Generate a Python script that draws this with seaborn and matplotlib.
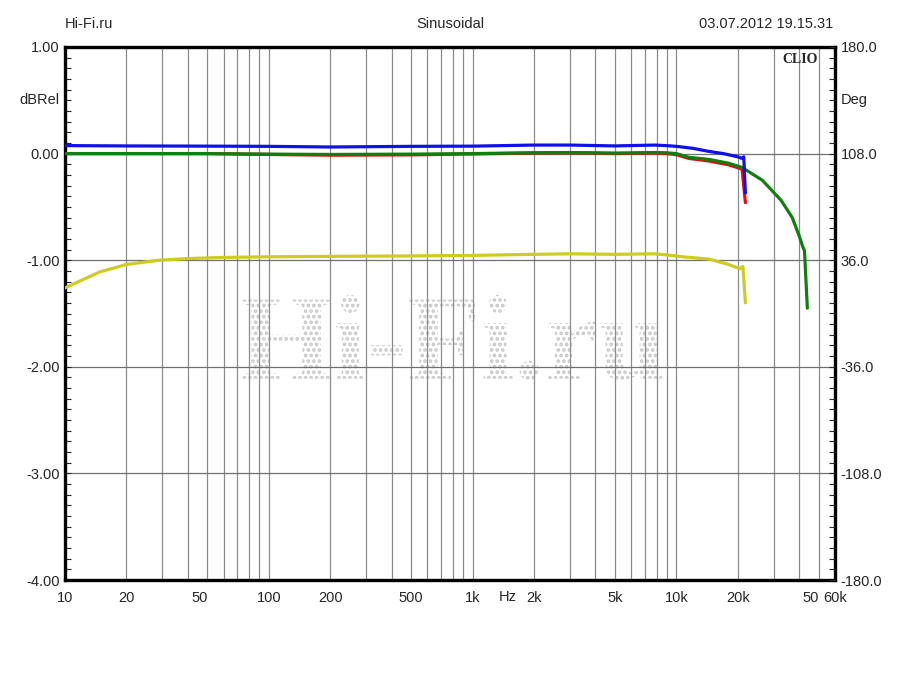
import numpy as np
import pandas as pd
import matplotlib
matplotlib.use("Agg")
import matplotlib.pyplot as plt
import matplotlib.ticker as mticker
import matplotlib.patheffects as pe
import seaborn as sns

# --- data (frequency in Hz, level in dBRel) ---
blue_f = [10, 20, 50, 100, 200, 500, 1000, 2000, 3000, 5000, 7800, 8900, 10000,
          12000, 14500, 17000, 20000, 21000, 21400, 21800]
blue_db = [0.075, 0.072, 0.07, 0.068, 0.062, 0.068, 0.07, 0.08, 0.08, 0.072, 0.08,
           0.075, 0.068, 0.05, 0.02, 0.0, -0.03, -0.045, -0.03, -0.37]

red_f = [10, 20, 50, 100, 200, 500, 1000, 2000, 3000, 5000, 7800, 8900, 10000,
         11500, 14500, 18000, 21000, 21800]
red_db = [0.0, 0.0, 0.0, -0.008, -0.015, -0.012, -0.003, 0.005, 0.008, 0.0, 0.005,
          0.0, -0.01, -0.045, -0.07, -0.105, -0.145, -0.46]

green_f = [10, 20, 50, 100, 200, 500, 1000, 2000, 3000, 5000, 7800, 8900, 10000,
           11500, 14500, 18000, 21000, 26400, 32700, 37000, 40000, 41800, 42500, 43900]
green_db = [0.0, 0.0, 0.0, -0.005, -0.008, -0.005, 0.0, 0.008, 0.01, 0.005, 0.01,
            0.008, 0.0, -0.035, -0.055, -0.09, -0.13, -0.25, -0.44, -0.6, -0.77,
            -0.88, -0.91, -1.45]

yellow_f = [10, 12, 14.8, 20, 29, 40, 57, 100, 142, 300, 500, 1000, 2000, 3000,
            5000, 7800, 8900, 11000, 14500, 18000, 20500, 21200, 21800]
yellow_db = [-1.26, -1.19, -1.11, -1.04, -1.0, -0.985, -0.975, -0.968, -0.966,
             -0.962, -0.96, -0.955, -0.945, -0.94, -0.945, -0.94, -0.95, -0.97,
             -0.99, -1.04, -1.08, -1.06, -1.40]

x_ticks = [10, 20, 50, 100, 200, 500, 1000, 2000, 5000, 10000, 20000, 50000, 60000]
x_labels = ["10", "20", "50", "100", "200", "500", "1k", "2k", "5k", "10k", "20k", "50", "60k"]
left_ticks = [-4, -3, -2, -1, 0, 1]
right_ticks = [-180, -108, -36, 36, 108, 180]

series = [("red", red_f, red_db), ("green", green_f, green_db),
          ("blue", blue_f, blue_db), ("yellow", yellow_f, yellow_db)]
df = pd.concat([pd.DataFrame({"f": f, "db": d, "trace": name})
                for name, f, d in series], ignore_index=True)
palette = {"red": "#e01010", "green": "#0f7f0f", "blue": "#1010e8", "yellow": "#cccc22"}

sns.set_style("white")
plt.rcParams["font.family"] = ["Liberation Sans", "DejaVu Sans"]
plt.rcParams["hatch.linewidth"] = 1.8

fig = plt.figure(figsize=(9, 6.75), dpi=100)
ax = fig.add_axes([65 / 900, 1 - 580 / 675, 770 / 900, 533 / 675])

# dotted watermark
ax.text(0.503, 0.432, "Hi-Fi.ru", transform=ax.transAxes, ha="center", va="center",
        fontsize=87, color="none", family="Liberation Serif", fontweight="bold", zorder=0,
        path_effects=[pe.PathPatchEffect(facecolor="none", edgecolor="#c6c6c6",
                                         hatch="...", linewidth=0)])

for name, f, d in series:
    sub = df[df["trace"] == name]
    sns.lineplot(data=sub, x="f", y="db", ax=ax, color=palette[name], lw=2.3,
                 sort=False, estimator=None, legend=False, zorder=3)

ax.set_xscale("log")
ax.set_xlabel("")
ax.set_ylabel("")

# grid
minor_x = [m * 10 ** e for e in range(1, 5) for m in range(1, 10)] + [50000, 60000]
ax.set_xticks(minor_x, minor=True)
ax.set_xticks(x_ticks)
ax.set_xticklabels(x_labels)
ax.xaxis.set_minor_formatter(mticker.NullFormatter())
ax.set_xlim(10, 60000)
ax.set_ylim(-4, 1)
ax.grid(which="both", axis="x", color="#8c8c8c", lw=0.9)
ax.grid(which="major", axis="y", color="#707070", lw=0.9)
ax.tick_params(axis="x", which="both", length=0, pad=8, labelsize=10.5)
for lab in ax.get_xticklabels():
    if lab.get_text() == "50":
        lab.set_horizontalalignment("right")

ax.set_yticks(left_ticks)
ax.yaxis.set_major_formatter(mticker.FormatStrFormatter("%.2f"))
ax.yaxis.set_minor_locator(mticker.MultipleLocator(0.1))
ax.tick_params(axis="y", which="both", direction="in", length=4, width=0.8,
               labelsize=10.5, pad=4, left=True)

for sp in ax.spines.values():
    sp.set_linewidth(2.4)
    sp.set_color("black")
    sp.set_visible(True)

ax2 = ax.twinx()
ax2.set_ylim(-180, 180)
ax2.set_yticks(right_ticks)
ax2.yaxis.set_major_formatter(mticker.FormatStrFormatter("%.1f"))
ax2.yaxis.set_minor_locator(mticker.MultipleLocator(7.2))
ax2.tick_params(axis="y", which="both", direction="in", length=4, width=0.8,
                labelsize=10.5, pad=4, right=True)
ax2.grid(False)
for sp in ax2.spines.values():
    sp.set_visible(False)

# axis unit labels
ax.text(-0.007, 0.9, "dBRel", transform=ax.transAxes, ha="right", va="center",
        fontsize=10.5)
ax.text(1.007, 0.9, "Deg", transform=ax.transAxes, ha="left", va="center", fontsize=10.5)
ax.text(1480, -0.031, "Hz", transform=ax.get_xaxis_transform(), ha="center",
        va="center", fontsize=10.5)
ax.text(0.977, 0.976, "CLIO", transform=ax.transAxes, ha="right", va="center",
        fontsize=10, fontweight="bold", family="Liberation Serif")

# header
fig.text(65 / 900, 1 - 24 / 675, "Hi-Fi.ru", ha="left", va="center", fontsize=10.5)
fig.text(450 / 900, 1 - 24 / 675, "Sinusoidal", ha="center", va="center", fontsize=10.5)
fig.text(833 / 900, 1 - 24 / 675, "03.07.2012 19.15.31", ha="right", va="center",
         fontsize=10.5)

fig.savefig("out.png", dpi=100, facecolor="white")
